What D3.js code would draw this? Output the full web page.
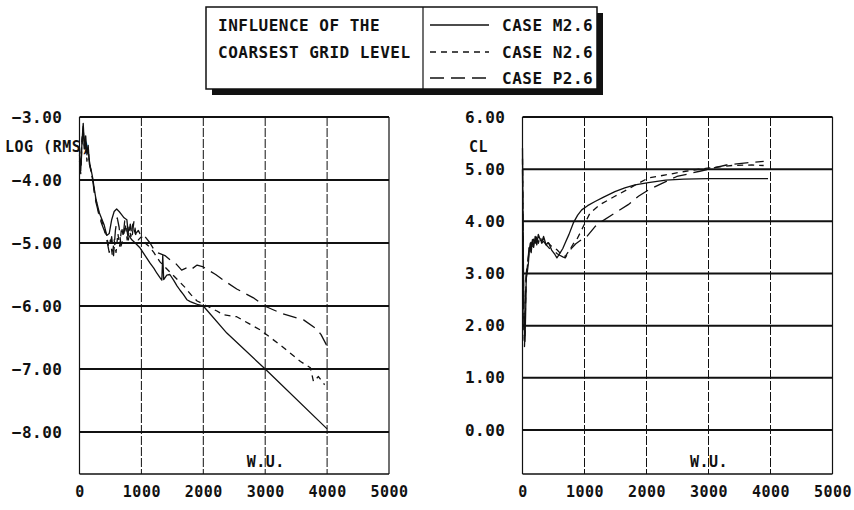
<!DOCTYPE html>
<html>
<head>
<meta charset="utf-8">
<script src="https://cdn.jsdelivr.net/npm/d3@7"></script>
<style>
  html, body { margin: 0; padding: 0; background: #fff; }
  svg text { font-family: "DejaVu Sans Mono", monospace; font-weight: bold; fill: #111; letter-spacing: 0.5px; }
</style>
</head>
<body>
<svg id="chart" width="854" height="510"></svg>
<script>
// ---- data ----------------------------------------------------------
const xTicks = [0, 1000, 2000, 3000, 4000, 5000];
const logTicks = [-3, -4, -5, -6, -7, -8];
const clTicks = [6, 5, 4, 3, 2, 1, 0];
const caseNames = ["CASE M2.6", "CASE N2.6", "CASE P2.6"];
const titleLines = ["INFLUENCE OF THE", "COARSEST GRID LEVEL"];

// residual history, log(RMS) vs work units
const m26LogWU = [0, 20, 40, 60, 80, 100, 120, 140, 160, 190, 215, 240, 265, 290, 320, 360, 400, 440, 480, 520, 560, 600, 640, 680, 720, 765, 790, 845, 900, 980, 1060, 1140, 1200, 1250, 1300, 1330, 1345, 1360, 1410, 1460, 1520, 1575, 1625, 1680, 1735, 1790, 1840, 1920, 2000, 2380, 3000, 4000];
const m26Log = [-3.6, -3.85, -3.4, -3.1, -3.5, -3.3, -3.6, -3.45, -3.75, -3.85, -3.98, -4.15, -4.3, -4.4, -4.52, -4.62, -4.72, -4.88, -4.85, -4.63, -4.5, -4.46, -4.5, -4.55, -4.6, -4.63, -4.87, -4.95, -5.0, -5.08, -5.2, -5.32, -5.4, -5.48, -5.55, -5.59, -5.2, -5.58, -5.51, -5.5, -5.59, -5.68, -5.75, -5.82, -5.9, -5.93, -5.95, -5.98, -6.0, -6.43, -7.0, -7.95];

const n26LogWU = [0, 20, 40, 60, 80, 100, 120, 140, 160, 190, 215, 240, 265, 290, 320, 360, 400, 440, 470, 500, 530, 560, 590, 620, 650, 680, 710, 740, 770, 800, 830, 860, 900, 950, 1000, 1060, 1120, 1200, 1300, 1400, 1500, 1600, 1700, 1800, 1900, 2000, 2100, 2220, 2325, 2540, 2920, 3245, 3570, 3730, 3780, 3860, 3960];
const n26Log = [-3.5, -3.8, -3.35, -3.15, -3.55, -3.4, -3.7, -3.5, -3.72, -3.9, -4.0, -4.18, -4.32, -4.42, -4.55, -4.65, -4.75, -4.9, -5.05, -4.95, -5.2, -4.95, -5.15, -4.85, -5.05, -4.75, -4.9, -4.7, -4.95, -4.75, -4.9, -4.7, -4.85, -4.95, -4.9, -5.0, -5.05, -5.15, -5.3, -5.4, -5.5, -5.6, -5.7, -5.82, -5.92, -5.97, -6.02, -6.08, -6.14, -6.17, -6.38, -6.62, -6.88, -6.98, -7.2, -7.12, -7.25];

const p26LogWU = [0, 20, 40, 60, 80, 100, 120, 140, 160, 190, 215, 240, 265, 290, 320, 360, 400, 440, 480, 520, 550, 580, 610, 640, 670, 700, 730, 760, 790, 820, 850, 880, 910, 950, 1000, 1060, 1140, 1225, 1300, 1380, 1465, 1550, 1650, 1720, 1790, 1900, 2000, 2080, 2200, 2325, 2540, 2810, 2990, 3245, 3620, 3810, 3900, 3990];
const p26Log = [-3.7, -3.9, -3.45, -3.2, -3.45, -3.35, -3.55, -3.5, -3.7, -3.88, -4.02, -4.2, -4.35, -4.45, -4.58, -4.7, -4.8, -4.95, -5.15, -4.9, -5.2, -4.8, -4.6, -4.75, -5.05, -4.95, -4.65, -4.75, -4.95, -4.7, -4.9, -4.65, -4.85, -4.8, -4.9, -4.9, -5.0, -5.14, -5.17, -5.2, -5.27, -5.32, -5.43, -5.4, -5.43, -5.35, -5.38, -5.43, -5.5, -5.59, -5.73, -5.87, -6.0, -6.11, -6.22, -6.35, -6.45, -6.62];

// lift coefficient history, CL vs work units
const m26ClWU = [0, 8, 16, 24, 32, 40, 50, 60, 75, 95, 110, 125, 140, 160, 180, 205, 230, 255, 285, 310, 340, 380, 420, 470, 525, 555, 600, 650, 690, 750, 820, 890, 955, 1050, 1170, 1300, 1490, 1650, 1815, 2030, 2310, 2600, 2980, 3500, 3960];
const m26Cl = [5.4, 4.2, 3.0, 2.2, 1.8, 1.7, 2.2, 2.9, 3.0, 3.2, 3.45, 3.58, 3.4, 3.65, 3.5, 3.71, 3.55, 3.75, 3.65, 3.6, 3.71, 3.55, 3.59, 3.45, 3.36, 3.3, 3.38, 3.48, 3.59, 3.75, 3.97, 4.12, 4.22, 4.3, 4.38, 4.46, 4.57, 4.64, 4.7, 4.74, 4.79, 4.81, 4.82, 4.82, 4.82];

const n26ClWU = [0, 8, 16, 24, 32, 40, 50, 60, 75, 95, 110, 125, 140, 160, 180, 205, 230, 255, 285, 310, 340, 380, 420, 470, 520, 560, 600, 635, 690, 760, 820, 875, 930, 980, 1090, 1250, 1490, 1705, 1870, 2030, 2310, 2630, 2980, 3380, 3700, 3890];
const n26Cl = [5.2, 4.0, 2.8, 2.0, 1.6, 1.9, 2.5, 2.95, 3.1, 3.3, 3.5, 3.4, 3.62, 3.55, 3.68, 3.6, 3.72, 3.58, 3.7, 3.62, 3.66, 3.6, 3.58, 3.52, 3.49, 3.45, 3.4, 3.36, 3.33, 3.45, 3.57, 3.65, 3.78, 3.9, 4.16, 4.32, 4.48, 4.62, 4.73, 4.83, 4.89, 4.96, 5.02, 5.07, 5.08, 5.07];

const p26ClWU = [0, 8, 16, 24, 32, 40, 50, 60, 75, 95, 110, 125, 140, 160, 180, 205, 230, 255, 285, 310, 340, 380, 420, 470, 520, 560, 600, 650, 690, 740, 795, 860, 955, 1040, 1170, 1280, 1490, 1705, 1870, 2030, 2200, 2490, 2860, 3290, 3610, 3890];
const p26Cl = [5.0, 3.8, 2.6, 1.9, 1.7, 2.1, 2.6, 3.0, 3.15, 3.35, 3.55, 3.45, 3.6, 3.5, 3.64, 3.58, 3.68, 3.6, 3.66, 3.58, 3.62, 3.55, 3.5, 3.45, 3.42, 3.38, 3.35, 3.32, 3.3, 3.4, 3.49, 3.57, 3.65, 3.71, 3.9, 4.0, 4.16, 4.32, 4.48, 4.6, 4.7, 4.86, 4.96, 5.08, 5.12, 5.15];

// ---- drawing -------------------------------------------------------
const svg = d3.select("#chart");
const ink = "#111";
const dashes = [null, "6,5", "14,7"];   // M solid, N short dash, P long dash

function zip(xs, ys) { return xs.map((x, i) => [x, ys[i]]); }

function panel(opts) {
  const x = d3.scaleLinear().domain([0, 5000]).range([opts.left, opts.right]);
  const y = d3.scaleLinear().domain(opts.yDomain).range([opts.top, opts.gridBottom]);
  const yBottom = y.invert(opts.bottom);
  const g = svg.append("g");

  // vertical grid (thin, broken)
  g.selectAll(".vg").data(xTicks.slice(1, -1)).join("line")
    .attr("x1", d => x(d)).attr("x2", d => x(d))
    .attr("y1", opts.top).attr("y2", opts.bottom)
    .attr("stroke", ink).attr("stroke-width", 1).attr("stroke-dasharray", "9,2");

  // horizontal grid (heavy)
  g.selectAll(".hg").data(opts.ticks.slice(1)).join("line")
    .attr("x1", opts.left).attr("x2", opts.right)
    .attr("y1", d => y(d)).attr("y2", d => y(d))
    .attr("stroke", ink).attr("stroke-width", 2);

  // frame
  g.append("line").attr("x1", opts.left).attr("x2", opts.right)
    .attr("y1", opts.top).attr("y2", opts.top).attr("stroke", ink).attr("stroke-width", 2);
  g.append("line").attr("x1", opts.left).attr("x2", opts.right)
    .attr("y1", opts.bottom).attr("y2", opts.bottom).attr("stroke", ink).attr("stroke-width", 1.6);
  [opts.left, opts.right].forEach(px => g.append("line")
    .attr("x1", px).attr("x2", px).attr("y1", opts.top).attr("y2", opts.bottom)
    .attr("stroke", ink).attr("stroke-width", 1.2));

  // y axis labels
  const yAxis = d3.axisLeft(y).tickValues(opts.ticks).tickFormat(d3.format(".2f"))
    .tickSize(0).tickPadding(opts.yPad);
  const ya = g.append("g").attr("transform", `translate(${opts.left},0)`).call(yAxis);
  ya.select(".domain").remove();
  ya.selectAll("text").attr("font-size", 16).attr("font-family", null).attr("fill", ink);

  // x axis labels
  const xAxis = d3.axisBottom(x).tickValues(xTicks).tickFormat(d3.format("d"))
    .tickSize(0).tickPadding(12);
  const xa = g.append("g").attr("transform", `translate(0,${opts.bottom})`).call(xAxis);
  xa.select(".domain").remove();
  xa.selectAll("text").attr("font-size", 15).attr("font-family", null).attr("fill", ink);

  // axis titles
  g.append("text").attr("x", opts.titleX).attr("y", 147).attr("dy", "0.35em")
    .attr("font-size", 15).text(opts.yTitle);
  g.append("text").attr("x", x(2700)).attr("y", 462).attr("dy", "0.35em")
    .attr("font-size", 15).text("W.U.");

  // series
  const line = d3.line().x(d => x(d[0])).y(d => y(d[1]));
  opts.series.forEach((s, i) => {
    g.append("path").datum(s).attr("d", line)
      .attr("fill", "none").attr("stroke", ink).attr("stroke-width", 1.3)
      .attr("stroke-linejoin", "round")
      .attr("stroke-dasharray", dashes[i]);
  });
}

panel({
  left: 79.5, right: 389, top: 117, gridBottom: 432, bottom: 474,
  yDomain: [-3, -8], ticks: logTicks, yPad: 17, titleX: 5, yTitle: "LOG (RMS)",
  series: [zip(m26LogWU, m26Log), zip(n26LogWU, n26Log), zip(p26LogWU, p26Log)]
});

panel({
  left: 522.5, right: 832.5, top: 117, gridBottom: 430, bottom: 474,
  yDomain: [6, 0], ticks: clTicks, yPad: 17, titleX: 469, yTitle: "CL",
  series: [zip(m26ClWU, m26Cl), zip(n26ClWU, n26Cl), zip(p26ClWU, p26Cl)]
});

// ---- legend box ----------------------------------------------------
const lg = svg.append("g");
const bx = 206, by = 7, bw = 391, bh = 82, divX = 423;
lg.append("rect").attr("x", bx + 6).attr("y", by + 6).attr("width", bw).attr("height", bh).attr("fill", ink);
lg.append("rect").attr("x", bx).attr("y", by).attr("width", bw).attr("height", bh)
  .attr("fill", "#fff").attr("stroke", ink).attr("stroke-width", 1.5);
lg.append("line").attr("x1", divX).attr("x2", divX).attr("y1", by).attr("y2", by + bh)
  .attr("stroke", ink).attr("stroke-width", 1.2);
const rowY = [25, 52, 78];
titleLines.forEach((t, i) => lg.append("text").attr("x", 218).attr("y", rowY[i])
  .attr("dy", "0.35em").attr("font-size", 16).text(t));
caseNames.forEach((c, i) => {
  lg.append("line").attr("x1", 430).attr("x2", 489).attr("y1", rowY[i]).attr("y2", rowY[i])
    .attr("stroke", ink).attr("stroke-width", 1.4).attr("stroke-dasharray", dashes[i]);
  lg.append("text").attr("x", 502).attr("y", rowY[i]).attr("dy", "0.35em")
    .attr("font-size", 16).text(c);
});
</script>
</body>
</html>
